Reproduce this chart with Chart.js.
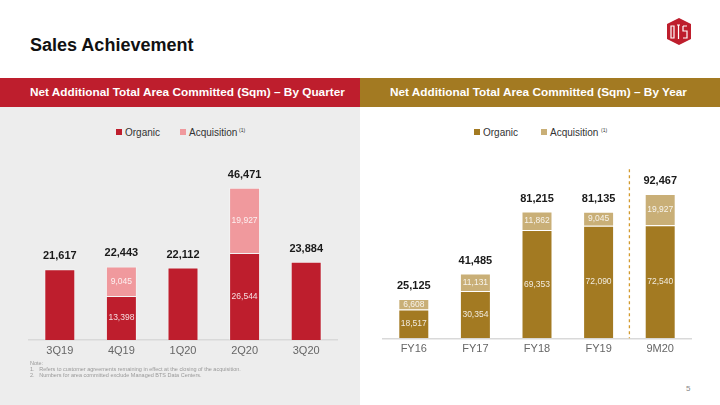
<!DOCTYPE html>
<html>
<head>
<meta charset="utf-8">
<script src="https://cdn.jsdelivr.net/npm/chart.js@4.4.1/dist/chart.umd.min.js"></script>
<style>
  body { margin: 0; width: 720px; height: 405px; position: relative; overflow: hidden; background: #fff; font-family: Arial, "Liberation Sans", sans-serif; }
  .abs { position: absolute; }
  #title { left: 30px; top: 35px; font-size: 18px; font-weight: bold; color: #111; }
  .band { top: 78px; height: 29px; color: #fff; font-size: 11.8px; font-weight: bold; line-height: 29px; padding-left: 30px; box-sizing: border-box; }
  #leftBand { left: 0; width: 360px; background: #BE1E2D; }
  #rightBand { left: 360px; width: 360px; background: #A37A22; }
  #leftPanel { left: 0; top: 107px; width: 360px; height: 298px; background: #EDEDED; }
  .legend { font-size: 10px; color: #333; }
  .sq { width: 6px; height: 6px; }
  .sup { font-size: 5px; color: #333; }
  .note { font-size: 5.5px; color: #999; }
  #page { left: 686px; top: 384px; font-size: 8px; color: #888; }
  canvas { position: absolute; }
</style>
</head>
<body>
<div class="abs" id="leftPanel"></div>
<div class="abs" id="title">Sales Achievement</div>
<svg class="abs" style="left:666px;top:18px" width="26" height="27" viewBox="0 0 26 27">
  <polygon points="13,0 25,6 25,21 13,27 1,21 1,6" fill="#BE1E2D"/>
  <path d="M5,8 h3 v12 h-3 z M11,7 h3 M12.5,7 v14 M17,8 h4 M17,8 v5 h4 v7 h-4" stroke="#fff" stroke-width="1.2" fill="none"/>
</svg>
<div class="abs band" id="leftBand">Net Additional Total Area Committed (Sqm) – By Quarter</div>
<div class="abs band" id="rightBand">Net Additional Total Area Committed (Sqm) – By Year</div>

<div class="abs sq" style="left:116px;top:129px;background:#BE1E2D"></div>
<div class="abs legend" style="left:125px;top:127px">Organic</div>
<div class="abs sq" style="left:180px;top:129px;background:#F0999D"></div>
<div class="abs legend" style="left:189px;top:127px">Acquisition</div>
<div class="abs sup" style="left:239px;top:127px">(1)</div>

<div class="abs sq" style="left:474px;top:129px;background:#A37A22"></div>
<div class="abs legend" style="left:483px;top:127px">Organic</div>
<div class="abs sq" style="left:541px;top:129px;background:#C9AF77"></div>
<div class="abs legend" style="left:550px;top:127px">Acquisition</div>
<div class="abs sup" style="left:601px;top:127px">(1)</div>

<canvas id="quarterChart" style="left:0;top:150px"></canvas>
<canvas id="yearChart" style="left:360px;top:150px"></canvas>

<div class="abs note" style="left:30px;top:360px">Note:</div>
<div class="abs note" style="left:30px;top:366px">1.&nbsp;&nbsp;&nbsp;Refers to customer agreements remaining in effect at the closing of the acquisition.</div>
<div class="abs note" style="left:30px;top:372px">2.&nbsp;&nbsp;&nbsp;Numbers for area committed exclude Managed BTS Data Centers.</div>
<div class="abs" id="page">5</div>

<script>
const quarters = ["3Q19", "4Q19", "1Q20", "2Q20", "3Q20"];
const quarterOrganic = [21617, 13398, 22112, 26544, 23884];
const quarterAcquisition = [0, 9045, 0, 19927, 0];

const years = ["FY16", "FY17", "FY18", "FY19", "9M20"];
const yearOrganic = [18517, 30354, 69353, 72090, 72540];
const yearAcquisition = [6608, 11131, 11862, 9045, 19927];

function fmt(v) {
    return v.toLocaleString("en-US");
}

// value labels inside segments and totals above bars
const barLabels = {
    id: "barLabels",
    afterDatasetsDraw(chart) {
        const ctx = chart.ctx;
        const org = chart.data.datasets[0].data;
        const acq = chart.data.datasets[1].data;
        const metaOrg = chart.getDatasetMeta(0);
        const metaAcq = chart.getDatasetMeta(1);
        ctx.save();
        ctx.textAlign = "center";
        ctx.textBaseline = "middle";
        org.forEach((v, i) => {
            const barO = metaOrg.data[i];
            const barA = metaAcq.data[i];
            if (acq[i] > 0) {
                ctx.font = "8.5px Arial";
                ctx.fillStyle = "rgba(255,255,255,0.85)";
                ctx.fillText(fmt(v), barO.x, (barO.y + barO.base) / 2);
                ctx.fillText(fmt(acq[i]), barA.x, (barA.y + barA.base) / 2);
            }
            const top = acq[i] > 0 ? barA.y : barO.y;
            ctx.font = "bold 11px Arial";
            ctx.fillStyle = "#1a1a1a";
            ctx.fillText(fmt(v + acq[i]), barO.x, top - 13);
        });
        ctx.restore();
    }
};

// dashed separator before the year-to-date bar
const separator = {
    id: "separator",
    afterDatasetsDraw(chart) {
        const x = chart.scales.x;
        const px = (x.getPixelForValue(3) + x.getPixelForValue(4)) / 2;
        const ctx = chart.ctx;
        ctx.save();
        ctx.strokeStyle = "#D39A2E";
        ctx.lineWidth = 1.3;
        ctx.setLineDash([3, 3]);
        ctx.beginPath();
        ctx.moveTo(px, chart.chartArea.top - 13);
        ctx.lineTo(px, chart.chartArea.bottom);
        ctx.stroke();
        ctx.restore();
    }
};

function makeChart(canvasId, labels, organic, acquisition, colors, yMax, padding, plugins) {
    const canvas = document.getElementById(canvasId);
    canvas.width = 360;
    canvas.height = 215;
    return new Chart(canvas, {
        type: "bar",
        data: {
            labels: labels,
            datasets: [{
                label: "Organic",
                data: organic,
                backgroundColor: colors[0],
                borderColor: "rgba(255,255,255,0.35)",
                borderWidth: 1
            }, {
                label: "Acquisition",
                data: acquisition,
                backgroundColor: colors[1],
                borderColor: "rgba(255,255,255,0.35)",
                borderWidth: 1
            }]
        },
        options: {
            responsive: false,
            animation: false,
            layout: { padding: padding },
            datasets: { bar: { categoryPercentage: 1, barPercentage: 0.503 } },
            plugins: { legend: { display: false }, tooltip: { enabled: false } },
            scales: {
                x: {
                    stacked: true,
                    grid: { display: false, drawTicks: false },
                    border: { display: true, color: "#D9D9D9", width: 1.5 },
                    ticks: { color: "#666", font: { size: 11, family: "Arial" }, padding: 4 }
                },
                y: {
                    stacked: true,
                    display: false,
                    min: 0,
                    max: yMax
                }
            }
        },
        plugins: plugins
    });
}

makeChart("quarterChart", quarters, quarterOrganic, quarterAcquisition,
    ["#BE1E2D", "#F0999D"], 55000,
    { left: 29, right: 23, top: 9.7, bottom: 3.8 }, [barLabels]);

makeChart("yearChart", years, yearOrganic, yearAcquisition,
    ["#A37A22", "#C9AF77"], 100000,
    { left: 23, right: 29, top: 32.3, bottom: 5.5 }, [barLabels, separator]);
</script>
</body>
</html>
